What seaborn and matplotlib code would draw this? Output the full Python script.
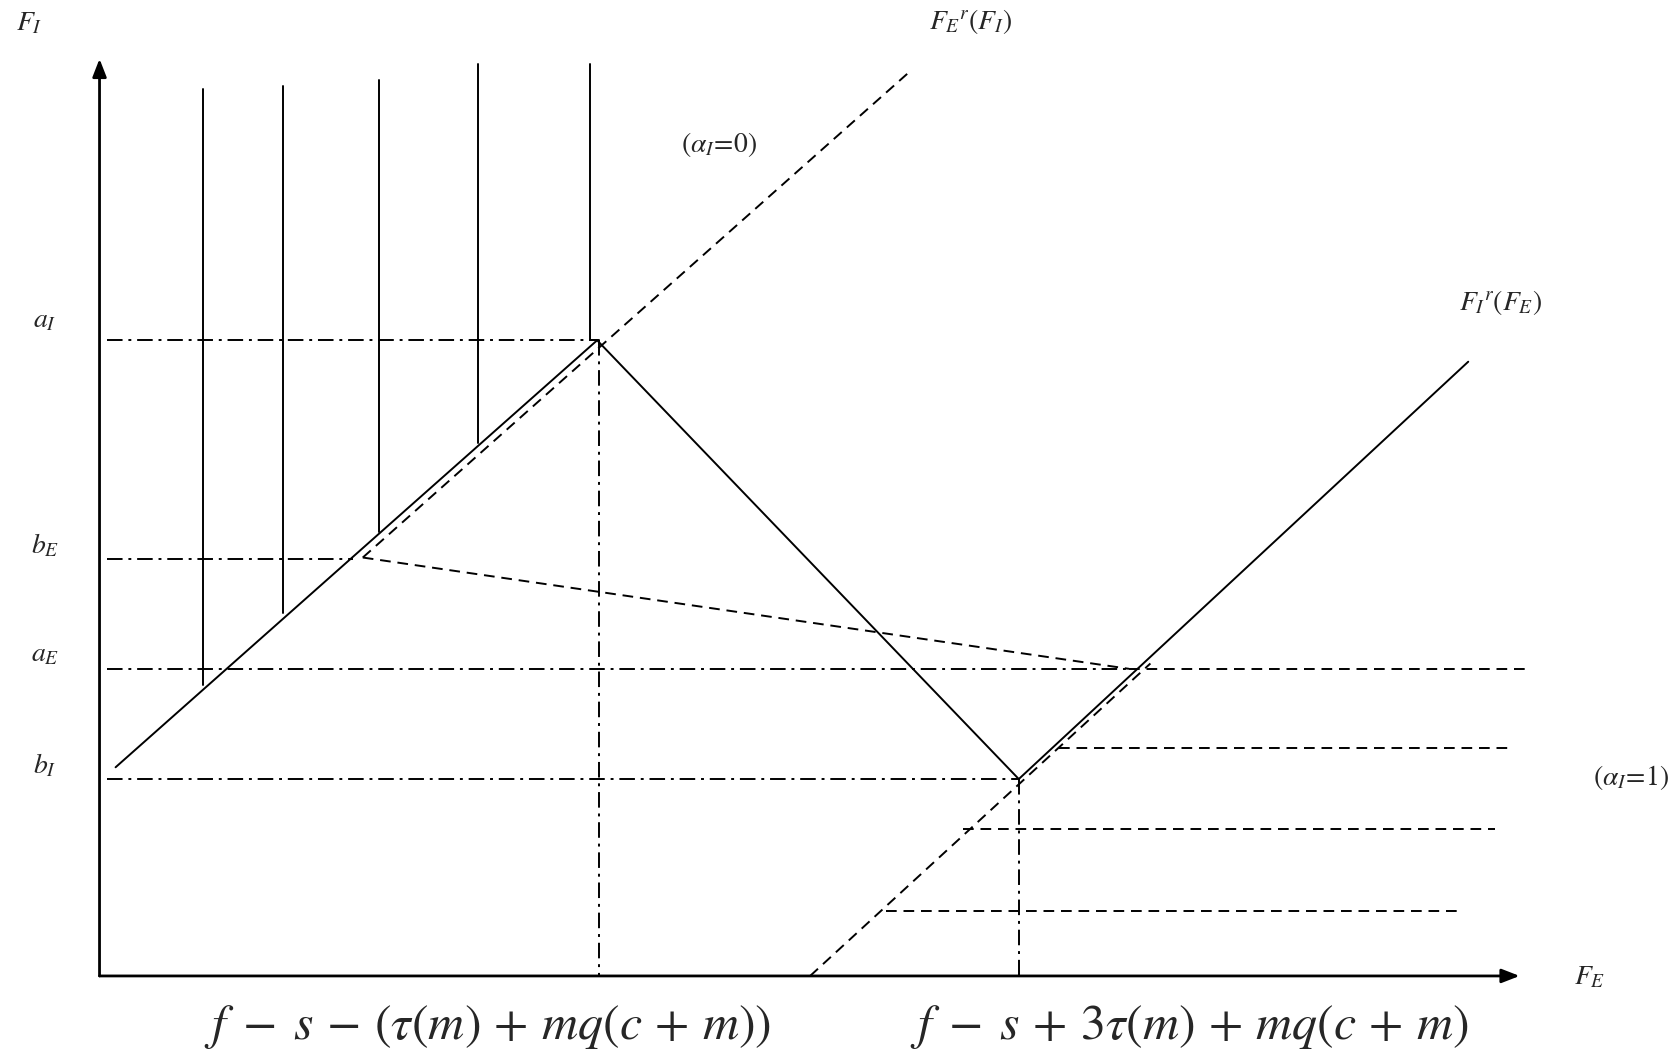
import matplotlib
matplotlib.use("Agg")
import matplotlib.pyplot as plt
import seaborn as sns

# diagram coordinates (pixel-like units, y downwards)
axis_x0, axis_y0 = 93, 912
axis_x_end, axis_y_end = 1420, 55

# reaction function of I (solid, kinked)
fi_x = [108, 558, 952, 1372]
fi_y = [717, 318, 728, 338]

# reaction function of E (dashed)
fe_x = [339, 850]
fe_y = [521, 67]
fe_kink_x = [339, 1055]
fe_kink_y = [521, 625]
ae_tail_x = [1055, 1428]
low_x = [757, 1075]
low_y = [912, 620]

# dashed horizontals on the right (alpha_I = 1 side)
right_levels = [699, 775, 851]
right_start = [990, 900, 828]
right_end = [1413, 1397, 1366]

# solid verticals (alpha_I = 0 side)
vert_x = [190, 264, 354, 447, 551]
vert_top = [83, 80, 75, 60, 60]
vert_bottom = [640, 573, 497, 414, 318]

# dash-dot reference lines
ref_names = ["$a_I$", "$b_E$", "$a_E$", "$b_I$"]
ref_levels = [318, 522, 625, 728]
ref_end = [558, 330, 1055, 952]
ref_label_y = [300, 510, 612, 715]
drop_x = [560, 952]
drop_top = [318, 728]

sns.set_theme(style="white")
plt.rcParams["mathtext.fontset"] = "stix"
plt.rcParams["font.family"] = ["STIXGeneral", "Liberation Serif", "DejaVu Serif"]

fig = plt.figure(figsize=(16.78, 10.53), dpi=100)
ax = fig.add_axes([0, 0, 1, 1])
ax.set_xlim(0, 1568)
ax.set_ylim(984, 0)
ax.axis("off")

DASH = (0, (5.5, 3.5))
DASHDOT = (0, (8, 3, 1.5, 3))
LW = 1.4


def seg(x, y, ls="-"):
    sns.lineplot(x=x, y=y, sort=False, estimator=None, color="black",
                 linewidth=LW, linestyle=ls, ax=ax)


# axes with arrows
ax.annotate("", xy=(axis_x0, axis_y_end), xytext=(axis_x0, axis_y0),
            arrowprops=dict(arrowstyle="-|>,head_width=0.35,head_length=0.9",
                            color="black", lw=2, shrinkA=0, shrinkB=0))
ax.annotate("", xy=(axis_x_end, axis_y0), xytext=(axis_x0, axis_y0),
            arrowprops=dict(arrowstyle="-|>,head_width=0.35,head_length=0.9",
                            color="black", lw=2, shrinkA=0, shrinkB=0))

seg(fi_x, fi_y)
seg(fe_x, fe_y, DASH)
seg(fe_kink_x, fe_kink_y, DASH)
seg(ae_tail_x, [ref_levels[2]] * 2, DASH)
seg(low_x, low_y, DASH)
for lv, s, e in zip(right_levels, right_start, right_end):
    seg([s, e], [lv, lv], DASH)
for x, t, b in zip(vert_x, vert_top, vert_bottom):
    seg([x, x], [t, b])
for lv, e in zip(ref_levels, ref_end):
    seg([100, e], [lv, lv], DASHDOT)
for x, t in zip(drop_x, drop_top):
    seg([x, x], [t, axis_y0], DASHDOT)
seg([551, 560], [318, 318])

fs = 20
for name, ly in zip(ref_names, ref_label_y):
    ax.text(42, ly, name, fontsize=fs, ha="center", va="center")
ax.text(27, 22, "$F_I$", fontsize=fs, ha="center", va="center")
ax.text(1485, 914, "$F_E$", fontsize=fs, ha="center", va="center")
ax.text(907, 20, "$F_E{}^r(F_I)$", fontsize=fs, ha="center", va="center")
ax.text(1402, 283, "$F_I{}^r(F_E)$", fontsize=fs, ha="center", va="center")
ax.text(672, 135, r"$(\alpha_I\!=\!0)$", fontsize=fs, ha="center", va="center")
ax.text(1524, 727, r"$(\alpha_I\!=\!1)$", fontsize=fs, ha="center", va="center")

ax.text(456, 960, r"$f\;-\;s\,-\,(\tau(m)\,+\,mq(c\,+\,m))$", fontsize=36,
        ha="center", va="center")
ax.text(1111, 960, r"$f\;-\;s\,+\,3\tau(m)\,+\,mq(c\,+\,m)$", fontsize=36,
        ha="center", va="center")

fig.savefig("out.png", dpi=100)
